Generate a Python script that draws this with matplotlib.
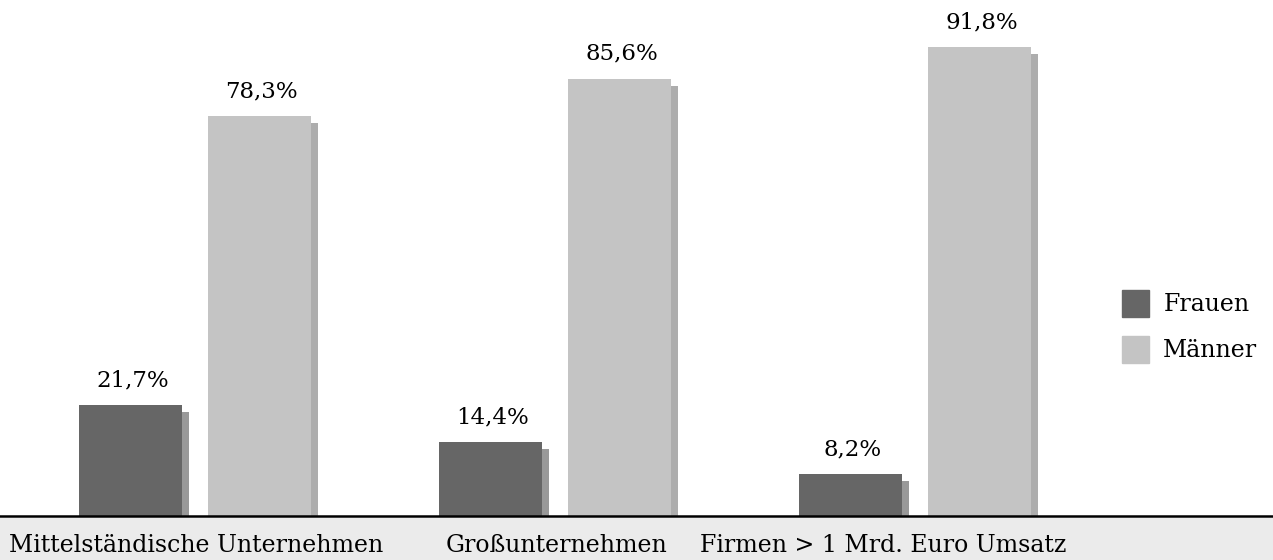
import matplotlib.pyplot as plt
from matplotlib.patches import Patch, Rectangle
import numpy as np

categories = ['Mittelständische Unternehmen', 'Großunternehmen', 'Firmen > 1 Mrd. Euro Umsatz']
frauen = [21.7, 14.4, 8.2]
maenner = [78.3, 85.6, 91.8]
series_names = ['Frauen', 'Männer']

plt.rcParams['font.family'] = ['DejaVu Serif']

W, H = 1273, 560
fig = plt.figure(figsize=(W / 100, H / 100), dpi=100)

# grey strip under the baseline for the category names
fig.patches.append(Rectangle((0, 0), 1, 42 / H, transform=fig.transFigure,
                             facecolor='#ebebeb', edgecolor='none', zorder=-1))

ax = fig.add_axes([0, 44 / H, 1, 516 / H])
ax.set_xlim(-195 / 360, (W - 195) / 360)
ax.set_ylim(0, 516 / 5.109)
ax.axis('off')

x = np.arange(len(categories))
off = 64.5 / 360
width = 103 / 360
sx, sy = 7 / 360, 7 / 5.109

# drop shadows first, then the bars
ax.bar(x - off + sx, np.array(frauen) - sy, width, color='#999999', zorder=1)
ax.bar(x + off + sx, np.array(maenner) - sy, width, color='#adadad', zorder=1)
ax.bar(x - off, frauen, width, color='#666666', zorder=2, label=series_names[0])
ax.bar(x + off, maenner, width, color='#c4c4c4', zorder=2, label=series_names[1])

for xi, v in zip(x - off, frauen):
    ax.text(xi + 0.006, v + 3.7, f'{v:.1f}%'.replace('.', ','), ha='center',
            va='baseline', fontsize=16.5)
for xi, v in zip(x + off, maenner):
    ax.text(xi + 0.006, v + 3.7, f'{v:.1f}%'.replace('.', ','), ha='center',
            va='baseline', fontsize=16.5)

ax.axhline(0, color='black', lw=1.8, zorder=3, clip_on=False)

trans = ax.get_xaxis_transform()
label_x = [0.003, 1.003, 1.911]
for lx, name in zip(label_x, categories):
    ax.text(lx, -36 / 516, name, ha='center', va='baseline', fontsize=17,
            transform=trans, clip_on=False)

handles = [Patch(color='#666666'), Patch(color='#c4c4c4')]
fig.legend(handles, series_names, loc='upper left',
           bbox_to_anchor=(1122 / W, 1 - 290 / H), frameon=False,
           fontsize=17, handlelength=1.15, handleheight=1.38,
           handletextpad=0.6, labelspacing=0.8, borderpad=0, borderaxespad=0)

fig.savefig('out.png', dpi=100)
